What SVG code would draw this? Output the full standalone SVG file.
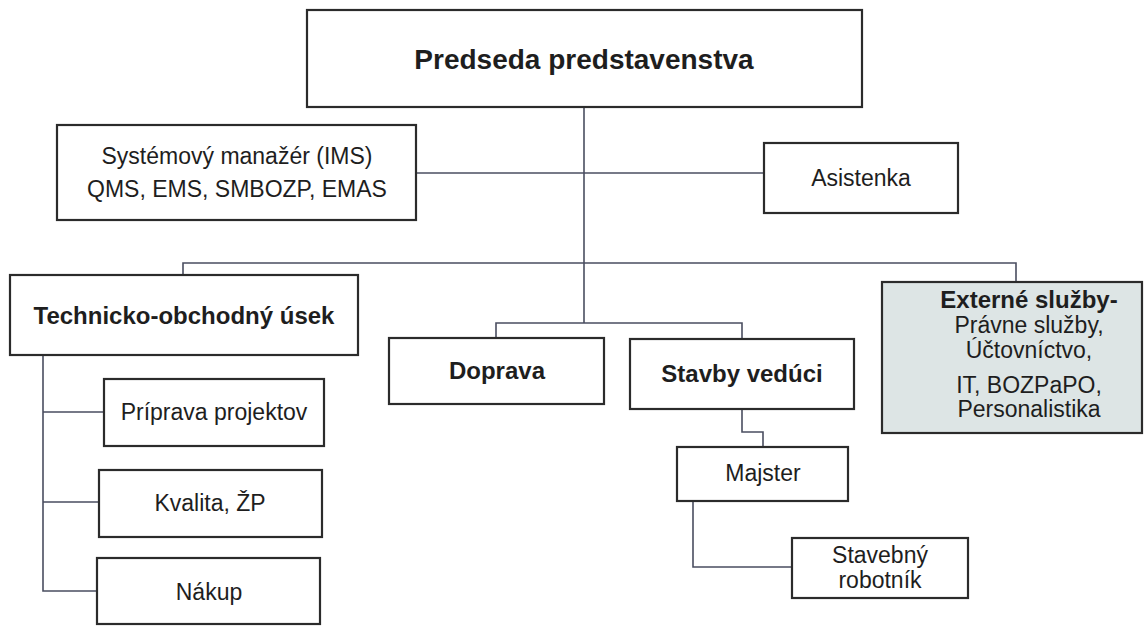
<svg xmlns="http://www.w3.org/2000/svg" width="1144" height="626" viewBox="0 0 1144 626">
<style>
.box{fill:#ffffff;stroke:#2b2b2b;stroke-width:2.2}
.ext{fill:#dde5e5;stroke:#2b2b2b;stroke-width:2.2}
.t{font-family:"Liberation Sans",Arial,sans-serif;font-size:23px;fill:#1e1e1e;text-anchor:middle}
.b{font-family:"Liberation Sans",Arial,sans-serif;font-size:24px;font-weight:bold;fill:#1e1e1e;text-anchor:middle}
.c{fill:none;stroke:#4a4e60;stroke-width:1.6}
</style>
<rect width="1144" height="626" fill="#ffffff"/>
<g id="connectors">
<path class="c" d="M584,107 V323"/>
<path class="c" d="M416,173 H769"/>
<path class="c" d="M183,275 V263 H1016 V282"/>
<path class="c" d="M496,338 V323 H742 V339"/>
<path class="c" d="M43,355 V591 H97 M43,412 H104 M43,502 H99"/>
<path class="c" d="M742,409 V432 H763 V447"/>
<path class="c" d="M693,501 V567 H792"/>
</g>
<g id="predseda">
<rect class="box" x="307" y="10" width="555" height="97"/>
<text class="b" x="584" y="69" style="font-size:28px">Predseda predstavenstva</text>
</g>
<g id="systemovy">
<rect class="box" x="57" y="125" width="359" height="95"/>
<text class="t" x="237" y="164">Systémový manažér (IMS)</text>
<text class="t" x="237" y="197">QMS, EMS, SMBOZP, EMAS</text>
</g>
<g id="asistenka">
<rect class="box" x="764" y="143" width="194" height="70"/>
<text class="t" x="861" y="186">Asistenka</text>
</g>
<g id="technicko">
<rect class="box" x="10" y="275" width="348" height="80"/>
<text class="b" x="184" y="324">Technicko-obchodný úsek</text>
</g>
<g id="priprava">
<rect class="box" x="104" y="379" width="220" height="67"/>
<text class="t" x="214" y="420">Príprava projektov</text>
</g>
<g id="kvalita">
<rect class="box" x="99" y="470" width="223" height="67"/>
<text class="t" x="210" y="511">Kvalita, ŽP</text>
</g>
<g id="nakup">
<rect class="box" x="97" y="558" width="223" height="66"/>
<text class="t" x="209" y="600">Nákup</text>
</g>
<g id="doprava">
<rect class="box" x="389" y="338" width="215" height="66"/>
<text class="b" x="497" y="379">Doprava</text>
</g>
<g id="stavby">
<rect class="box" x="630" y="339" width="224" height="70"/>
<text class="b" x="742" y="382">Stavby vedúci</text>
</g>
<g id="majster">
<rect class="box" x="677" y="447" width="171" height="54"/>
<text class="t" x="763" y="481">Majster</text>
</g>
<g id="robotnik">
<rect class="box" x="792" y="538" width="176" height="60"/>
<text class="t" x="880" y="563">Stavebný</text>
<text class="t" x="880" y="588">robotník</text>
</g>
<g id="externe">
<rect class="ext" x="882" y="282" width="260" height="151"/>
<text class="b" x="1029" y="308">Externé služby-</text>
<text class="t" x="1029" y="333">Právne služby,</text>
<text class="t" x="1029" y="358">Účtovníctvo,</text>
<text class="t" x="1029" y="393">IT, BOZPaPO,</text>
<text class="t" x="1029" y="417">Personalistika</text>
</g>
</svg>
